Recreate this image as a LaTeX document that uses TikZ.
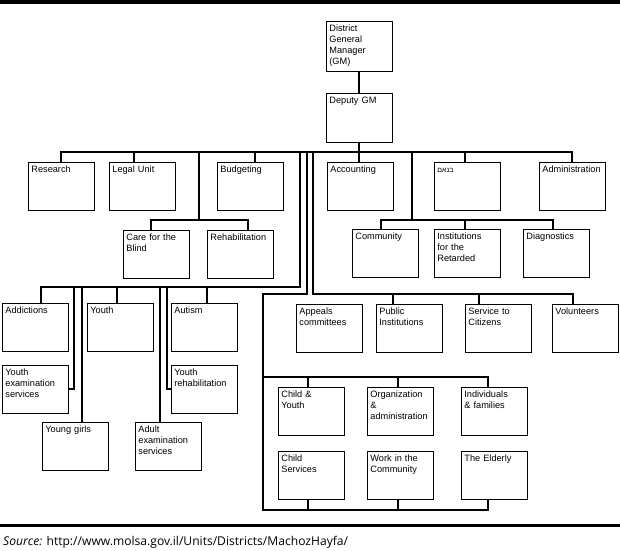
\documentclass[tikz,border=0pt]{standalone}
\usepackage{fontspec}
\setmainfont{Liberation Sans}
\newfontfamily\hebfont[Script=Hebrew]{Liberation Sans}
\newfontfamily\srcfont{Open Sans}
\TeXXeTstate=1
\newcommand{\unitfont}{\fontsize{9.2}{11}\selectfont\hyphenpenalty=10000\exhyphenpenalty=10000}

\begin{document}
\begin{tikzpicture}[x=1pt, y=-1pt,
  unit/.style={draw, line width=0.8pt, anchor=north west, align=left,
    text width=60pt, inner xsep=3pt, inner ysep=2.3pt,
    text height=7.7pt, text depth=35.7pt, font=\unitfont},
  bus/.style={line width=2pt},
  thinbus/.style={line width=1.1pt}]
\useasboundingbox (0,0) rectangle (620,550);
\fill (0,0) rectangle (620,4);

% top
\node[unit, text depth=37.7pt] (gm) at (326,21) {District\\General\\Manager\\(GM)};
\node[unit, text depth=36.7pt] (dep) at (326,93) {Deputy GM};

% first row
\node[unit] (res) at (28,162) {Research};
\node[unit] (legal) at (109,162) {Legal Unit};
\node[unit] (budg) at (217,162) {Budgeting};
\node[unit] (acct) at (327,162) {Accounting};
\node[unit] (heb) at (434,162) {{\hebfont\fontsize{7}{8}\selectfont\beginR בנאם\endR}};
\node[unit] (adm) at (539,162) {Administration};

% second row
\node[unit] (care) at (123,230) {Care for the\\Blind};
\node[unit] (rehab) at (207,230) {Rehabilitation};
\node[unit] (comm) at (352,229) {Community};
\node[unit] (inst) at (434,229) {Institutions\\for the\\Retarded};
\node[unit] (diag) at (523,229) {Diagnostics};

% left group
\node[unit] (addic) at (2,303) {Addictions};
\node[unit] (youth) at (87,303) {Youth};
\node[unit] (autism) at (171,303) {Autism};
\node[unit] (yexam) at (2,365) {Youth\\examination\\services};
\node[unit] (yrehab) at (171,365) {Youth\\rehabilitation};
\node[unit] (girls) at (42,422) {Young girls};
\node[unit] (aexam) at (135,422) {Adult\\examination\\services};

% right group
\node[unit] (appeal) at (296,304) {Appeals\\committees};
\node[unit] (public) at (376,304) {Public\\Institutions};
\node[unit] (serv) at (465,304) {Service to\\Citizens};
\node[unit] (volun) at (552,304) {Volunteers};
\node[unit] (child) at (278,387) {Child \&\\Youth};
\node[unit] (org) at (367,387) {Organization\\\&\\administration};
\node[unit] (indiv) at (461,387) {Individuals\\\& families};
\node[unit] (chserv) at (278,451) {Child\\Services};
\node[unit] (work) at (367,451) {Work in the\\Community};
\node[unit] (elder) at (461,451) {The Elderly};

% junctions on the main bus
\coordinate (t1) at (199,152);
\coordinate (t2) at (300,152);
\coordinate (t3) at (307,152);
\coordinate (t4) at (313,152);
\coordinate (t5) at (412,152);
\coordinate (spine) at (263,294);

\draw[bus] (gm.south) -- (dep.north);
\draw[bus] (res.north) -- ++(0,-10) -| (adm.north);
\draw[bus] (dep.south) -- (dep.south |- acct.north);
\draw[bus] ([xshift=-8pt]legal.north) -- ++(0,-10);
\draw[bus] ([xshift=5pt]budg.north) -- ++(0,-10);
\draw[bus] ([xshift=-2pt]heb.north) -- ++(0,-10);

\draw[bus] (t1) |- ([xshift=-5pt,yshift=10pt]care.north);
\draw[bus] ([xshift=-5pt]care.north) -- ++(0,-10) -| ([xshift=8pt]rehab.north);

\draw[thinbus] (t5) |- ([xshift=-4pt,yshift=9pt]comm.north);
\draw[bus] ([xshift=-4pt]comm.north) -- ++(0,-9) -| ([xshift=-3pt]diag.north);
\draw[bus] ([xshift=-2pt]inst.north) -- ++(0,-9);

% left group
\draw[bus] (t2) |- ([xshift=6pt,yshift=16pt]addic.north) -- ([xshift=6pt]addic.north);
\draw[bus] ([xshift=-3pt]youth.north) -- ++(0,-16);
\draw[bus] ([xshift=3pt]autism.north) -- ++(0,-16);
\draw[bus] (yexam.east) -| ([xshift=5pt,yshift=16pt]addic.north east);
\draw[bus] ([xshift=7pt]girls.north) -- ++(0,-135);
\draw[bus] ([xshift=-8pt]aexam.north) -- ++(0,-135);
\draw[bus] (yrehab.west) -| ([xshift=-4pt,yshift=16pt]autism.north west);

% right group
\draw[bus] (t4) |- ([xshift=-12pt,yshift=10pt]volun.north) -- ([xshift=-12pt]volun.north);
\draw[bus] ([xshift=-16pt]public.north) -- ++(0,-10);
\draw[bus] ([xshift=-19pt]serv.north) -- ++(0,-10);
\draw[bus] (t3) |- (spine) |- ([xshift=-6pt,yshift=-10pt]elder.south) -- ([xshift=-6pt]elder.south);
\draw[bus] ([xshift=-15pt,yshift=10pt]child.north west) -| ([xshift=-6pt]indiv.north);
\draw[bus] ([xshift=-3pt]child.north) -- ++(0,-10);
\draw[bus] ([xshift=-2pt]org.north) -- ++(0,-10);
\draw[bus] ([xshift=-3pt]chserv.south) -- ++(0,10);
\draw[bus] ([xshift=-2pt]work.south) -- ++(0,10);

% source
\draw[line width=3pt] (0,525) -- (620,525);
\node[anchor=base west, inner sep=0pt, font=\srcfont\fontsize{12.1}{14}\selectfont] (src) at (3,545) {\textit{Source:} http://www.molsa.gov.il/Units/Districts/MachozHayfa/};
\end{tikzpicture}
\end{document}
